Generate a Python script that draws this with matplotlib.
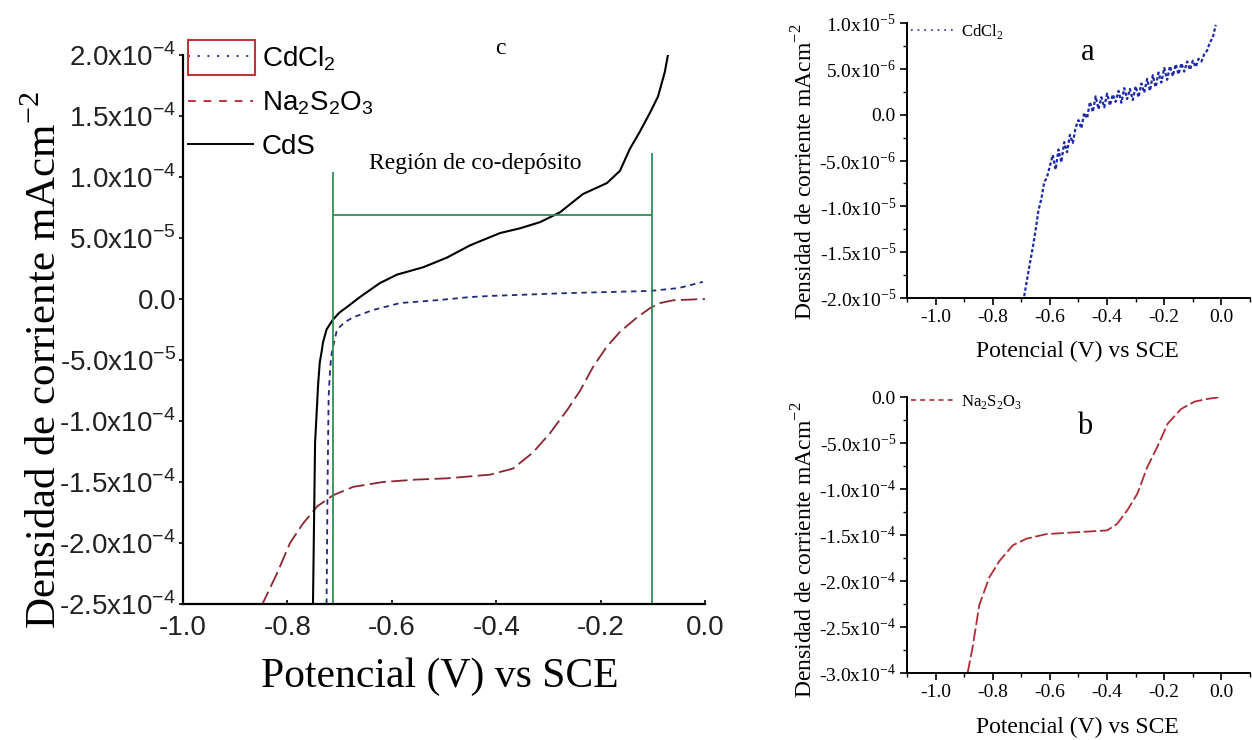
import math

import matplotlib
matplotlib.use("Agg")
import matplotlib.pyplot as plt
from matplotlib.lines import Line2D
from matplotlib.patches import Rectangle

W, H = 1252, 740

# ---- panel c (main): three polarisation curves ----
CDCL2_C_X = [-0.725, -0.723, -0.721, -0.718, -0.715, -0.705, -0.690, -0.674, -0.636,
             -0.584, -0.508, -0.450, -0.412, -0.259, -0.105, -0.050, -0.004]
CDCL2_C_Y = [-25.0, -15.0, -8.0, -5.6, -4.4, -2.5, -1.9, -1.5, -0.9,
             -0.33, -0.08, 0.16, 0.25, 0.49, 0.66, 0.9, 1.4]  # x1e-5

NA_C_X = [-0.850, -0.820, -0.795, -0.770, -0.743, -0.713, -0.674, -0.617, -0.552, -0.494,
          -0.412, -0.368, -0.330, -0.297, -0.264, -0.239, -0.215, -0.188, -0.163, -0.130,
          -0.105, -0.086, -0.060, -0.030, 0.000]
NA_C_Y = [-25.2, -22.5, -20.0, -18.4, -17.0, -16.1, -15.4, -15.0, -14.8, -14.7,
          -14.4, -13.9, -12.6, -11.0, -9.1, -7.5, -5.6, -3.9, -2.7, -1.5,
          -0.74, -0.33, -0.10, -0.05, 0.0]  # x1e-5

CDS_C_X = [-0.751, -0.747, -0.741, -0.738, -0.734, -0.732, -0.725, -0.713, -0.700, -0.686,
           -0.661, -0.623, -0.590, -0.540, -0.494, -0.450, -0.393, -0.354, -0.316, -0.278,
           -0.234, -0.188, -0.163, -0.144, -0.125, -0.105, -0.090, -0.077, -0.071]
CDS_C_Y = [-25.0, -11.8, -6.9, -5.2, -4.2, -3.6, -2.5, -1.7, -1.1, -0.66,
           0.16, 1.3, 2.0, 2.6, 3.4, 4.4, 5.4, 5.8, 6.3, 7.1,
           8.6, 9.5, 10.5, 12.3, 13.7, 15.3, 16.6, 18.6, 20.0]  # x1e-5

REGION_X = [-0.713, -0.102]
REGION_TOP = [10.4, 12.0]  # x1e-5
REGION_BAR = 6.9  # x1e-5

# ---- panel a: CdCl2 alone ----
CDCL2_A_X = [-0.690, -0.680, -0.670, -0.660, -0.650, -0.640, -0.630, -0.620, -0.610, -0.600,
             -0.590, -0.580, -0.570, -0.560, -0.550, -0.540, -0.530, -0.520, -0.510, -0.500,
             -0.490, -0.480, -0.470, -0.460, -0.450, -0.440, -0.430, -0.420, -0.410, -0.400,
             -0.390, -0.380, -0.370, -0.360, -0.350, -0.340, -0.330, -0.320, -0.310, -0.300,
             -0.290, -0.280, -0.270, -0.260, -0.250, -0.240, -0.230, -0.220, -0.210, -0.200,
             -0.190, -0.180, -0.170, -0.160, -0.150, -0.140, -0.130, -0.120, -0.110, -0.100,
             -0.090, -0.080, -0.070, -0.060, -0.050, -0.040, -0.030, -0.020]
CDCL2_A_Y = [-19.8, -18.0, -16.2, -14.5, -12.6, -10.4, -9.2, -7.4, -6.8, -5.6,
             -4.4, -6.0, -3.8, -5.2, -3.0, -4.1, -2.2, -3.1, -1.4, -0.6,
             -1.5, 0.2, -0.4, 1.4, 0.3, 2.0, 0.6, 1.9, 0.8, 2.3,
             1.0, 2.2, 1.4, 2.6, 1.3, 2.9, 1.7, 2.8, 1.6, 3.1,
             1.9, 3.4, 2.4, 3.9, 2.6, 4.3, 3.0, 4.6, 3.5, 5.1,
             3.8, 5.3, 4.2, 5.5, 4.4, 5.6, 4.7, 5.8, 4.9, 5.9,
             5.2, 6.1, 5.8, 6.6, 7.0, 7.9, 8.4, 9.8]  # x1e-6

# ---- panel b: Na2S2O3 alone ----
NA_B_X = [-0.888, -0.871, -0.847, -0.812, -0.776, -0.729, -0.682, -0.612, -0.506, -0.400,
          -0.365, -0.329, -0.294, -0.259, -0.224, -0.188, -0.141, -0.094, -0.047, 0.000]
NA_B_Y = [-3.00, -2.73, -2.26, -1.96, -1.78, -1.61, -1.54, -1.49, -1.47, -1.45,
          -1.38, -1.23, -1.05, -0.76, -0.54, -0.29, -0.13, -0.05, -0.02, 0.00]  # x1e-4

MAIN_XTICKS = [-1.0, -0.8, -0.6, -0.4, -0.2, 0.0]
MAIN_YTICKS = [-2.5e-4, -2.0e-4, -1.5e-4, -1.0e-4, -5.0e-5, 0.0, 5.0e-5, 1.0e-4, 1.5e-4, 2.0e-4]
A_YTICKS = [-2.0e-5, -1.5e-5, -1.0e-5, -5.0e-6, 0.0, 5.0e-6, 1.0e-5]
B_YTICKS = [-3.0e-4, -2.5e-4, -2.0e-4, -1.5e-4, -1.0e-4, -5.0e-5, 0.0]
SMALL_XTICKS = [-1.0, -0.8, -0.6, -0.4, -0.2, 0.0]
SMALL_XMINOR = [-1.1, -0.9, -0.7, -0.5, -0.3, -0.1, 0.1]

SANS = "Liberation Sans"
SERIF = "Liberation Serif"
GREEN = "#2f8f55"


def sci_label(v: float) -> str:
    if v == 0:
        return "0.0"
    e = math.floor(math.log10(abs(v)) + 1e-9)
    m = v / 10 ** e
    return f"{m:.1f}x10$^{{\\mathregular{{{e}}}}}$"


def fx(px: float) -> float:
    return px / W


def fy(py: float) -> float:
    return 1 - py / H


fig = plt.figure(figsize=(W / 100, H / 100), dpi=100)

# ---------------- panel c ----------------
ax = fig.add_axes([fx(183), fy(604), 522 / W, 549 / H])
ax.plot(CDCL2_C_X, [v * 1e-5 for v in CDCL2_C_Y], color="#1f2a78", lw=1.3, ls=(0, (3, 2.5)))
ax.plot(NA_C_X, [v * 1e-5 for v in NA_C_Y], color="#8a2530", lw=1.3, ls=(0, (9, 3)))
ax.plot(CDS_C_X, [v * 1e-5 for v in CDS_C_Y], color="black", lw=1.5)
ax.vlines(REGION_X, -2.5e-4, [t * 1e-5 for t in REGION_TOP], color=GREEN, lw=1.3)
ax.hlines(REGION_BAR * 1e-5, REGION_X[0], REGION_X[1], color=GREEN, lw=1.3)
ax.set_xlim(-1.0, 0.0)
ax.set_ylim(-2.5e-4, 2.0e-4)
for s in ("top", "right"):
    ax.spines[s].set_visible(False)
for s in ("left", "bottom"):
    ax.spines[s].set_linewidth(1.6)
ax.set_xticks(MAIN_XTICKS, [f"{t:.1f}" for t in MAIN_XTICKS], fontfamily=SANS, fontsize=20, color="#222222")
ax.set_yticks(MAIN_YTICKS, [sci_label(t) for t in MAIN_YTICKS], fontfamily=SANS, fontsize=20, color="#222222")
ax.tick_params(axis="x", direction="in", length=3, width=1.2, pad=8)
ax.tick_params(axis="y", direction="out", length=3, width=1.2, pad=2)

handles = [
    Line2D([], [], color="#2030b0", lw=1.4, ls=(0, (1, 4))),
    Line2D([], [], color="#c03040", lw=1.4, ls=(0, (4, 4))),
    Line2D([], [], color="black", lw=1.4),
]
labels = ["CdCl$_{\\mathregular{2}}$", "Na$_{\\mathregular{2}}$S$_{\\mathregular{2}}$O$_{\\mathregular{3}}$", "CdS"]
ax.legend(handles, labels, loc="upper left", bbox_to_anchor=(fx(188), fy(44)),
          bbox_transform=fig.transFigure, frameon=False, borderpad=0, borderaxespad=0,
          handlelength=2.35, handletextpad=0.3, labelspacing=0.6,
          prop={"family": SANS, "size": 20})
fig.add_artist(Rectangle((fx(188), fy(75)), 67 / W, 35 / H, transform=fig.transFigure,
                         fill=False, ec="#b8383a", lw=1.5))

fig.text(fx(500), fy(48), "c", family=SERIF, fontsize=17, ha="center", va="center")
fig.text(fx(475), fy(163), "Región de co-depósito", family=SERIF, fontsize=17, ha="center", va="center")
fig.text(fx(440), fy(677), "Potencial (V) vs SCE", family=SERIF, fontsize=30, ha="center", va="center")
fig.text(fx(45), fy(360), "Densidad de corriente mAcm$^{\\mathregular{-2}}$", family=SERIF, fontsize=31,
         rotation=90, ha="center", va="center")


# ---------------- panels a and b ----------------
def small_axes(rect, yticks, ylim):
    a = fig.add_axes(rect)
    a.set_xlim(-1.1, 0.1)
    a.set_ylim(*ylim)
    for s in ("top", "right"):
        a.spines[s].set_visible(False)
    for s in ("left", "bottom"):
        a.spines[s].set_linewidth(1.4)
    a.set_xticks(SMALL_XTICKS, [f"{t:.1f}" for t in SMALL_XTICKS], fontfamily=SERIF, fontsize=14)
    a.set_xticks(SMALL_XMINOR, minor=True)
    a.set_yticks(yticks, [sci_label(t) for t in yticks], fontfamily=SERIF, fontsize=14)
    mids = [(yticks[i] + yticks[i + 1]) / 2 for i in range(len(yticks) - 1)]
    a.set_yticks(mids, minor=True)
    a.tick_params(which="major", direction="out", length=5, width=1.2, pad=3)
    a.tick_params(which="minor", direction="out", length=3, width=1.0)
    return a


axa = small_axes([fx(907), fy(298), 343 / W, 275 / H], A_YTICKS, (-2.0e-5, 1.0e-5))
axa.plot(CDCL2_A_X, [v * 1e-6 for v in CDCL2_A_Y], color="#1c2aa8", lw=1.6, ls=(0, (1.5, 1)))
axa.legend([Line2D([], [], color="#1c2aa8", lw=1.2, ls=(0, (1, 3)))],
           ["CdCl$_{\\mathregular{2}}$"], loc="upper left", bbox_to_anchor=(fx(911), fy(22)),
           bbox_transform=fig.transFigure, frameon=False, borderpad=0, borderaxespad=0,
           handlelength=2.6, handletextpad=0.4, prop={"family": SERIF, "size": 12})
fig.text(fx(1088), fy(52), "a", family=SERIF, fontsize=22, ha="center", va="center")
fig.text(fx(1077), fy(351), "Potencial (V) vs SCE", family=SERIF, fontsize=17, ha="center", va="center")
fig.text(fx(805), fy(172), "Densidad de corriente mAcm$^{\\mathregular{-2}}$", family=SERIF, fontsize=17,
         rotation=90, ha="center", va="center")

axb = small_axes([fx(907), fy(673), 343 / W, 276 / H], B_YTICKS, (-3.0e-4, 0.0))
axb.plot(NA_B_X, [v * 1e-4 for v in NA_B_Y], color="#b02a35", lw=1.3, ls=(0, (7, 2)))
axb.legend([Line2D([], [], color="#b02a35", lw=1.2, ls=(0, (3, 2.5)))],
           ["Na$_{\\mathregular{2}}$S$_{\\mathregular{2}}$O$_{\\mathregular{3}}$"], loc="upper left",
           bbox_to_anchor=(fx(911), fy(393)), bbox_transform=fig.transFigure, frameon=False,
           borderpad=0, borderaxespad=0, handlelength=2.6, handletextpad=0.4,
           prop={"family": SERIF, "size": 12})
fig.text(fx(1085), fy(427), "b", family=SERIF, fontsize=22, ha="center", va="center")
fig.text(fx(1077), fy(727), "Potencial (V) vs SCE", family=SERIF, fontsize=17, ha="center", va="center")
fig.text(fx(805), fy(550), "Densidad de corriente mAcm$^{\\mathregular{-2}}$", family=SERIF, fontsize=17,
         rotation=90, ha="center", va="center")

fig.savefig("out.png", dpi=100)
